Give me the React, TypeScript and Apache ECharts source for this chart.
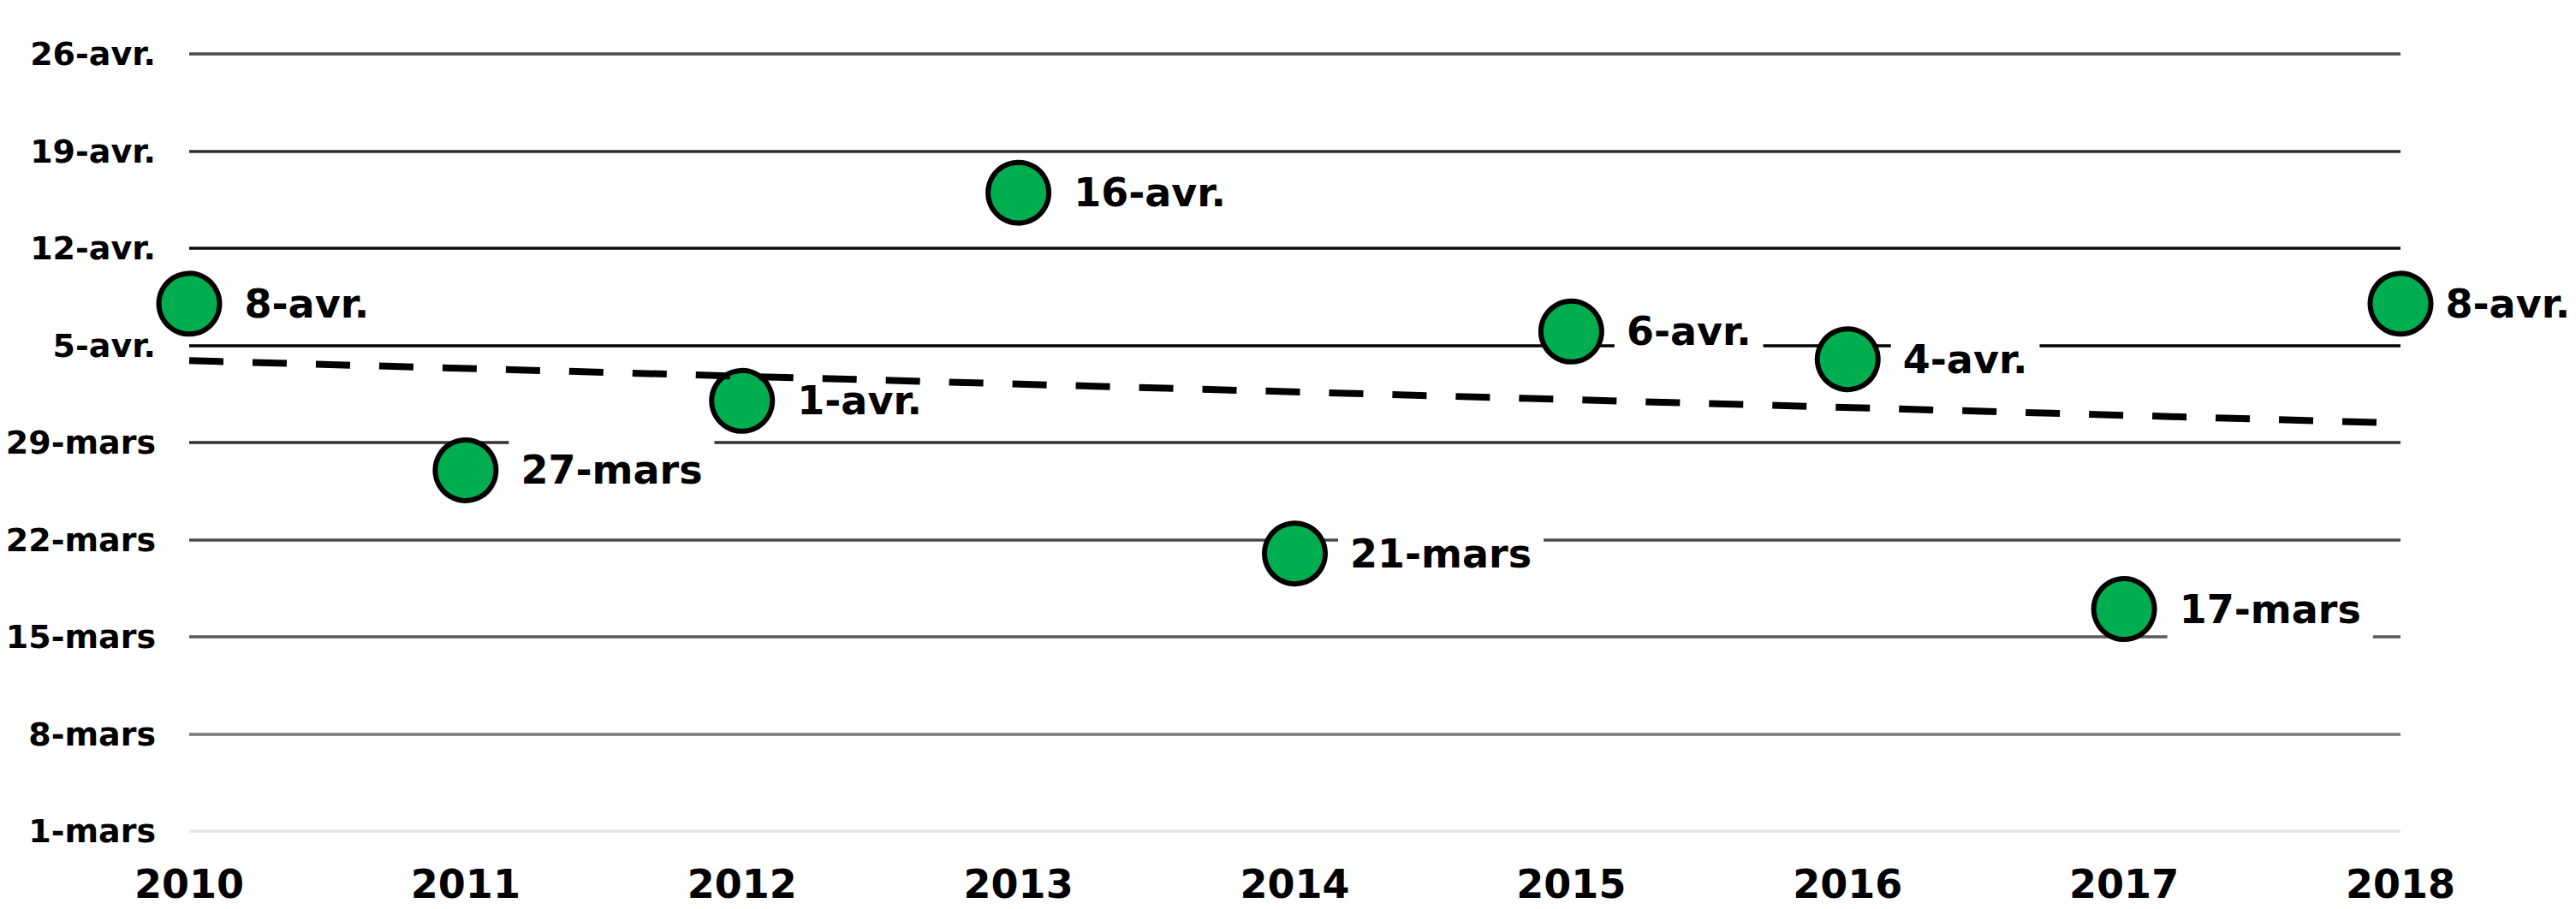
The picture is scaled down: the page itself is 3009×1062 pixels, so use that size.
import React, { useEffect, useRef } from "react";
import * as echarts from "echarts";

// Years (categories)
const years = ["2010", "2011", "2012", "2013", "2014", "2015", "2016", "2017", "2018"];
// Date of each point, as days since 1 March
const dayValues = [38, 26, 31, 46, 20, 36, 34, 16, 38];
// Data labels as written on the chart
const dateLabels = ["8-avr.", "27-mars", "1-avr.", "16-avr.", "21-mars", "6-avr.", "4-avr.", "17-mars", "8-avr."];
// Y-axis tick labels (every 7 days from 1 March)
const yTickLabels = ["1-mars", "8-mars", "15-mars", "22-mars", "29-mars", "5-avr.", "12-avr.", "19-avr.", "26-avr."];
// Trend line, read at its two ends (2010 and 2018), days since 1 March
const trendYears = [0, 8];
const trendValues = [33.9, 29.4];

const FONT = "'DejaVu Sans', Verdana, sans-serif";

export default function App() {
  const ref = useRef<HTMLDivElement>(null);

  useEffect(() => {
    if (!ref.current) return;
    const chart = echarts.init(ref.current, undefined, { renderer: "svg" });
    const lastIndex = dayValues.length - 1;
    chart.setOption({
      animation: false,
      backgroundColor: "#ffffff",
      grid: { left: 221, right: 205, top: 63, bottom: 91, containLabel: false },
      xAxis: {
        type: "category",
        data: years,
        boundaryGap: false,
        axisLine: { show: false },
        axisTick: { show: false },
        splitLine: { show: false },
        axisLabel: {
          color: "#000",
          fontFamily: FONT,
          fontWeight: "bold",
          fontSize: 46,
          margin: 39,
        },
      },
      yAxis: {
        type: "value",
        min: 0,
        max: 56,
        interval: 7,
        axisLine: { show: false },
        axisTick: { show: false },
        axisLabel: {
          color: "#000",
          fontFamily: FONT,
          fontWeight: "bold",
          fontSize: 38,
          margin: 39,
          formatter: (v: number) => yTickLabels[Math.round(v / 7)] ?? "",
        },
        splitLine: {
          show: true,
          lineStyle: {
            width: 3.5,
            color: ["#e6e6e6", "#7a7a7a", "#5a5a5a", "#4a4a4a", "#333333", "#000000", "#0a0a0a", "#2e2e2e", "#4a4a4a"],
          },
        },
      },
      series: [
        {
          type: "scatter",
          z: 2,
          data: dayValues.map((v, i) =>
            i === lastIndex
              ? { value: v, label: { distance: 6, padding: [16, 8] } }
              : v
          ),
          symbol: "circle",
          symbolSize: 71,
          itemStyle: { color: "#00ad4f", borderColor: "#000", borderWidth: 6, opacity: 1 },
          label: {
            show: true,
            position: "right",
            distance: 12,
            formatter: (p: any) => dateLabels[p.dataIndex],
            color: "#000",
            opacity: 1,
            fontFamily: FONT,
            fontWeight: "bold",
            fontSize: 46,
            lineHeight: 46,
            backgroundColor: "#ffffff",
            padding: [16, 14],
          },
          emphasis: { disabled: true },
        },
        {
          type: "line",
          z: 5,
          data: trendYears.map((x, i) => [x, trendValues[i]]),
          symbol: "none",
          lineStyle: { color: "#000", width: 8, type: [40, 34], cap: "butt", opacity: 1 },
          emphasis: { disabled: true },
        },
      ],
    });
    return () => chart.dispose();
  }, []);

  return (
    <div
      ref={ref}
      style={{ position: "absolute", left: 0, top: 0, width: 3009, height: 1062, background: "#fff" }}
    />
  );
}
